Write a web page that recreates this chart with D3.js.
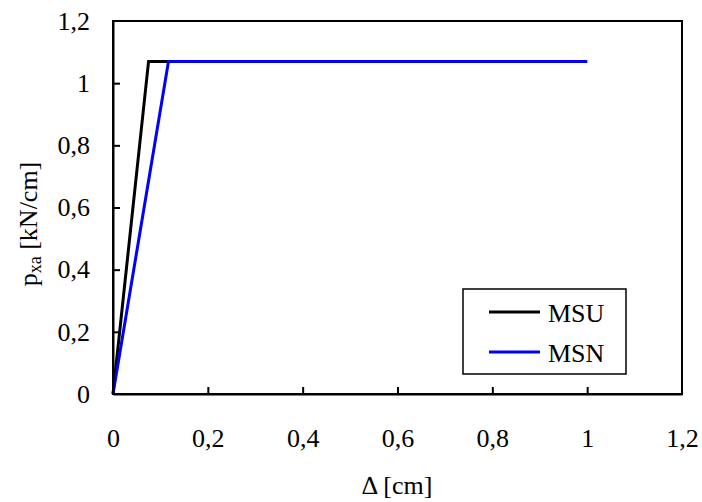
<!DOCTYPE html>
<html><head><meta charset="utf-8">
<script src="https://cdn.jsdelivr.net/npm/d3@7"></script>
<style>body{margin:0;background:#fff}svg{display:block}</style>
</head><body>
<script>
const seriesNames = ["MSU", "MSN"];
const seriesColors = ["#000000", "#0000ff"];
const msuX = [0, 0.075, 1.0];
const msuY = [0, 1.07, 1.07];
const msnX = [0, 0.117, 1.0];
const msnY = [0, 1.07, 1.07];
const xTicks = [0, 0.2, 0.4, 0.6, 0.8, 1, 1.2];
const yTicks = [0, 0.2, 0.4, 0.6, 0.8, 1, 1.2];

const W = 702, H = 502;
const L = 113, R = 682, T = 21, B = 394;
const FONT = "Liberation Serif, Times New Roman, DejaVu Serif, serif";
const FS = 26;
const svg = d3.select("body").append("svg").attr("width", W).attr("height", H)
  .style("font-family", FONT);
const x = d3.scaleLinear().domain([0, 1.2]).range([L, R]);
const y = d3.scaleLinear().domain([0, 1.2]).range([B, T]);
const fmt = d => String(+d.toFixed(1)).replace(".", ",");

const data = [
  msuX.map((v, i) => [v, msuY[i]]),
  msnX.map((v, i) => [v, msnY[i]])
];
const line = d3.line().x(d => x(d[0])).y(d => y(d[1]));
data.forEach((d, i) => {
  svg.append("path").attr("d", line(d)).attr("fill", "none")
    .attr("stroke", seriesColors[i]).attr("stroke-width", 3).attr("stroke-linejoin", "miter");
});

svg.append("rect").attr("x", L).attr("y", T).attr("width", R - L).attr("height", B - T)
  .attr("fill", "none").attr("stroke", "#000").attr("stroke-width", 2);

const xAxis = svg.append("g").attr("transform", `translate(0,${B})`)
  .call(d3.axisBottom(x).tickValues(xTicks).tickFormat(fmt).tickSizeInner(-7).tickSizeOuter(0).tickPadding(35));
const yAxis = svg.append("g").attr("transform", `translate(${L},0)`)
  .call(d3.axisLeft(y).tickValues(yTicks).tickFormat(fmt).tickSizeInner(-7).tickSizeOuter(0).tickPadding(23));
[xAxis, yAxis].forEach(g => {
  g.attr("font-family", null).style("font-family", FONT);
  g.select(".domain").attr("stroke-width", 2);
  g.selectAll(".tick line").attr("stroke-width", 2);
  g.selectAll(".tick text").attr("font-size", FS).attr("fill", "#000").style("font-family", FONT);
});
xAxis.selectAll(".tick").filter(d => d === 0 || d === 1.2).select("line").remove();
yAxis.selectAll(".tick").filter(d => d === 0 || d === 1.2).select("line").remove();

svg.append("text").attr("x", 397).attr("y", 494).attr("text-anchor", "middle")
  .attr("font-size", FS).style("font-family", FONT).text("Δ [cm]");
const yt = svg.append("text").attr("transform", "translate(37,224) rotate(-90)")
  .attr("text-anchor", "middle").attr("font-size", FS).style("font-family", FONT);
yt.append("tspan").text("p");
yt.append("tspan").attr("font-size", 18).attr("dy", 4).text("xa");
yt.append("tspan").attr("dy", -4).text(" [kN/cm]");

const lg = svg.append("g");
lg.append("rect").attr("x", 463).attr("y", 289).attr("width", 163).attr("height", 85)
  .attr("fill", "#fff").attr("stroke", "#000").attr("stroke-width", 1.5);
seriesNames.forEach((n, i) => {
  const yy = 312 + i * 40;
  lg.append("line").attr("x1", 489).attr("x2", 540).attr("y1", yy).attr("y2", yy)
    .attr("stroke", seriesColors[i]).attr("stroke-width", 3);
  lg.append("text").attr("x", 548).attr("y", yy + 10)
    .attr("font-size", FS).style("font-family", FONT).text(n);
});
</script>
</body></html>
